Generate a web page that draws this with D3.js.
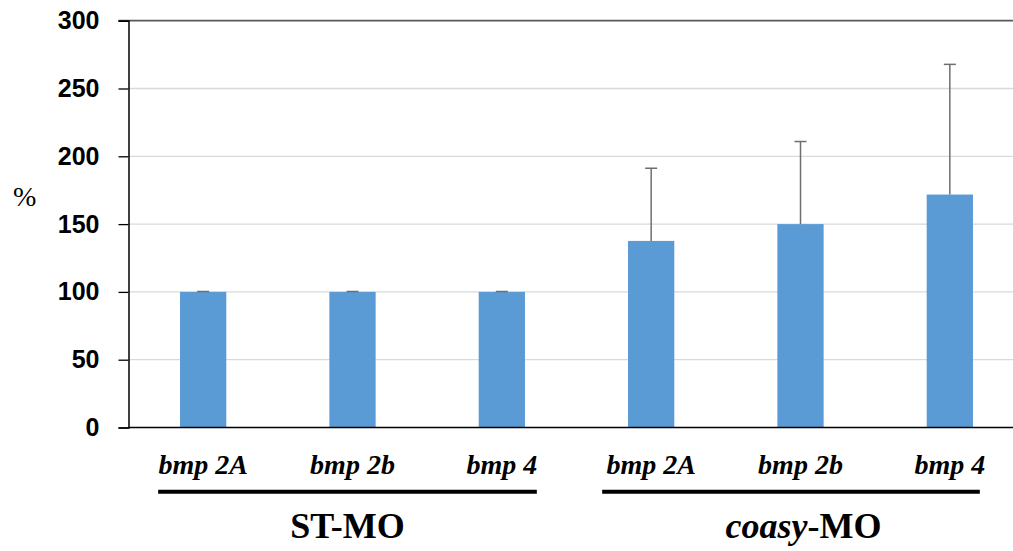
<!DOCTYPE html>
<html>
<head>
<meta charset="utf-8">
<script src="https://cdn.jsdelivr.net/npm/d3@7"></script>
<style>
  html, body { margin: 0; padding: 0; background: #fff; overflow: hidden; }
  svg { display: block; }
</style>
</head>
<body>
<svg id="chart" width="1013" height="551"></svg>
<script>
// Relative expression (%) of bmp genes in control vs coasy morphants
const categories = ["ST bmp 2A", "ST bmp 2b", "ST bmp 4", "coasy bmp 2A", "coasy bmp 2b", "coasy bmp 4"];
const geneLabels = ["bmp 2A", "bmp 2b", "bmp 4", "bmp 2A", "bmp 2b", "bmp 4"];
const values = [100, 100, 100, 137.6, 150, 171.8];
const errors = [0.3, 0.3, 0.3, 53.6, 60.9, 96];
const yTicks = [0, 50, 100, 150, 200, 250, 300];
const groups = [
  { name: "ST-MO", from: 0, to: 2 },
  { name: "coasy-MO", from: 3, to: 5 }
];

const svg = d3.select("#chart");
const plotLeft = 128.5, plotRight = 1024.5, plotTop = 20.7, plotBottom = 427.5;

const x = d3.scaleBand()
  .domain(categories)
  .range([plotLeft, plotRight])
  .paddingInner(0.69)
  .paddingOuter(0.345);

const y = d3.scaleLinear().domain([0, 300]).range([plotBottom, plotTop]);

// horizontal gridlines
svg.append("g")
  .selectAll("line")
  .data(yTicks.filter(t => t > 0 && t < 300))
  .join("line")
  .attr("x1", plotLeft).attr("x2", 1013)
  .attr("y1", d => y(d)).attr("y2", d => y(d))
  .attr("stroke", "#d9d9d9").attr("stroke-width", 1.3);

// top border line
svg.append("line")
  .attr("x1", plotLeft - 10).attr("x2", 1013)
  .attr("y1", y(300)).attr("y2", y(300))
  .attr("stroke", "#595959").attr("stroke-width", 1.8);

// bars
svg.append("g")
  .selectAll("rect")
  .data(values)
  .join("rect")
  .attr("x", (d, i) => x(categories[i]))
  .attr("width", x.bandwidth())
  .attr("y", d => y(d))
  .attr("height", d => y(0) - y(d))
  .attr("fill", "#5b9bd5");

// error bars (upper only)
const eb = svg.append("g").attr("stroke", "#6e6e6e").attr("stroke-width", 1.5);
values.forEach((v, i) => {
  const cx = x(categories[i]) + x.bandwidth() / 2;
  eb.append("line")
    .attr("x1", cx).attr("x2", cx)
    .attr("y1", y(v)).attr("y2", y(v + errors[i]));
  eb.append("line")
    .attr("x1", cx - 6).attr("x2", cx + 6)
    .attr("y1", y(v + errors[i])).attr("y2", y(v + errors[i]));
});

// y axis
const yAxis = svg.append("g")
  .attr("transform", `translate(${plotLeft},0)`)
  .call(d3.axisLeft(y).tickValues(yTicks).tickSize(10).tickPadding(19));
yAxis.select(".domain").attr("stroke", "#000").attr("stroke-width", 1.5);
yAxis.selectAll(".tick line").attr("stroke", "#000").attr("stroke-width", 1.3);
yAxis.selectAll(".tick text")
  .attr("fill", "#000")
  .style("font-family", "'Liberation Sans', Arial, sans-serif")
  .style("font-weight", "bold")
  .style("font-size", "25px");

// x axis baseline
svg.append("line")
  .attr("x1", plotLeft).attr("x2", 1013)
  .attr("y1", y(0)).attr("y2", y(0))
  .attr("stroke", "#000").attr("stroke-width", 1.5);

// y axis title
svg.append("text")
  .attr("x", 13).attr("y", 206)
  .style("font-family", "'Liberation Serif', 'Times New Roman', serif")
  .style("font-size", "28px")
  .text("%");

// gene labels
svg.append("g")
  .selectAll("text")
  .data(geneLabels)
  .join("text")
  .attr("x", (d, i) => x(categories[i]) + x.bandwidth() / 2)
  .attr("y", 474)
  .attr("text-anchor", "middle")
  .style("font-family", "'Liberation Serif', 'Times New Roman', serif")
  .style("font-style", "italic")
  .style("font-weight", "bold")
  .style("font-size", "28px")
  .text(d => d);

// group underlines and names
const gLines = [
  { l: -45, r: 35 },
  { l: -49, r: 30 }
];
groups.forEach((g, k) => {
  const c0 = x(categories[g.from]) + x.bandwidth() / 2;
  const c1 = x(categories[g.to]) + x.bandwidth() / 2;
  const x0 = c0 + gLines[k].l, x1 = c1 + gLines[k].r;
  svg.append("line")
    .attr("x1", x0).attr("x2", x1)
    .attr("y1", 491.7).attr("y2", 491.7)
    .attr("stroke", "#000").attr("stroke-width", 4);
  const t = svg.append("text")
    .attr("y", 537.5)
    .attr("text-anchor", "middle")
    .style("font-family", "'Liberation Serif', 'Times New Roman', serif")
    .style("font-weight", "bold")
    .style("font-size", "36px");
  if (g.name === "coasy-MO") {
    t.attr("x", (c0 + c1) / 2 + 3);
    t.append("tspan").style("font-style", "italic").text("coasy");
    t.append("tspan").text("-MO");
  } else {
    t.attr("x", (x0 + x1) / 2);
    t.text(g.name);
  }
});
</script>
</body>
</html>
